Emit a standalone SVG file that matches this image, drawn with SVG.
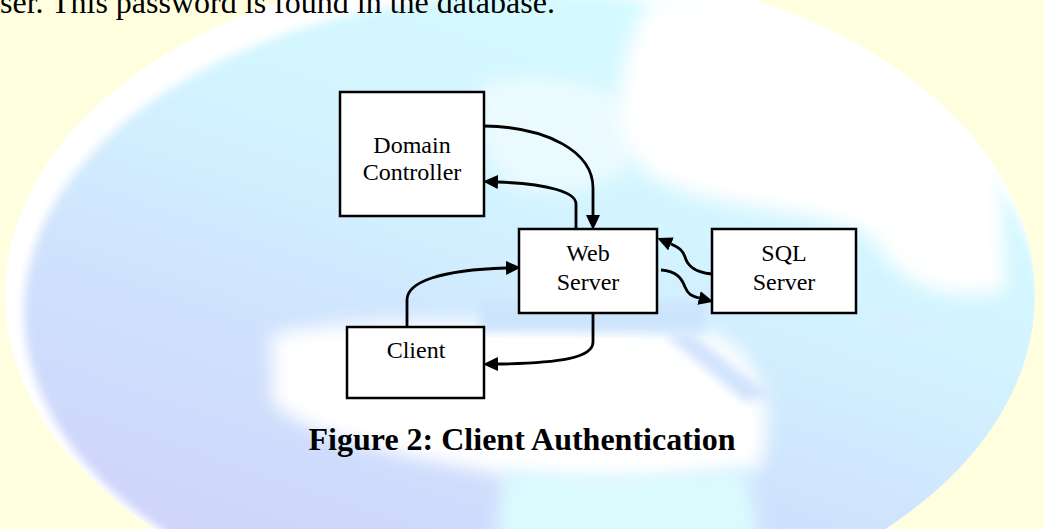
<svg xmlns="http://www.w3.org/2000/svg" width="1044" height="529" viewBox="0 0 1044 529">
  <defs>
    <style>
      .box { fill: #ffffff; stroke: #000000; stroke-width: 2.5; }
      .lbl { font-family: "Liberation Serif", "Times New Roman", serif; font-size: 24px; fill: #000000; text-anchor: middle; }
      .body { font-family: "Liberation Serif", "Times New Roman", serif; font-size: 32px; fill: #000000; }
      .cap { font-family: "Liberation Serif", "Times New Roman", serif; font-size: 32px; font-weight: bold; fill: #000000; text-anchor: middle; }
      .wire { fill: none; stroke: #000000; stroke-width: 2.8; }
    </style>
    <marker id="head" markerUnits="userSpaceOnUse" markerWidth="16" markerHeight="14" refX="0" refY="7" orient="auto">
      <path d="M0,0 L15,7 L0,14 Z" fill="#000000"/>
    </marker>
    <linearGradient id="sea" x1="0.75" y1="0" x2="0.2" y2="1">
      <stop offset="0" stop-color="#d4fcff"/>
      <stop offset="0.35" stop-color="#d3f4ff"/>
      <stop offset="0.6" stop-color="#cfe3fd"/>
      <stop offset="1" stop-color="#cfcffb"/>
    </linearGradient>
    <clipPath id="globeClip">
      <ellipse cx="520" cy="295" rx="515" ry="332"/>
    </clipPath>
    <filter id="soft" x="-20%" y="-20%" width="140%" height="140%">
      <feGaussianBlur stdDeviation="9"/>
    </filter>
    <filter id="softer" x="-20%" y="-20%" width="140%" height="140%">
      <feGaussianBlur stdDeviation="5"/>
    </filter>
  </defs>

  <!-- page background with the globe artwork -->
  <g id="background">
    <rect x="0" y="0" width="1044" height="529" fill="#ffffe0"/>
    <ellipse cx="520" cy="295" rx="515" ry="332" fill="#ffffff"/>
    <g clip-path="url(#globeClip)">
      <ellipse cx="532" cy="312" rx="508" ry="318" fill="url(#sea)" filter="url(#softer)"/>
      <!-- land masses -->
      <path d="M650,0 C740,-5 900,30 1000,130 L1005,290 C960,300 905,295 875,240 C830,205 720,215 650,175 C605,140 615,60 650,0 Z" fill="#ffffff" filter="url(#soft)"/>
      <path d="M272,335 C350,312 600,322 705,332 C765,345 775,420 760,468 C700,482 560,492 480,470 C380,452 300,432 272,402 Z" fill="#ffffff" filter="url(#soft)"/>
      <path d="M505,470 C560,480 690,478 745,468 L760,540 L495,540 Z" fill="#dcfbff" filter="url(#soft)"/>
      <path d="M480,85 C540,70 620,80 640,120 C650,170 600,200 520,190 C480,170 470,110 480,85 Z" fill="#ffffff" opacity="0.55" filter="url(#soft)"/>
      <!-- grid-line streaks -->
      <path d="M480,302 L705,302 L705,332 L480,332 Z" fill="#cde4fd" filter="url(#softer)"/>
      <path d="M665,335 L690,332 L770,395 L745,402 Z" fill="#d2e4fd" filter="url(#softer)"/>
      <path d="M860,318 L900,310 L960,330 L900,335 Z" fill="#d6f0ff" filter="url(#softer)"/>
    </g>
  </g>

  <!-- running text above the figure -->
  <text class="body" x="0" y="13">ser. This password is found in the database.</text>

  <!-- connectors -->
  <g id="connectors">
    <path class="wire" d="M484,126 C548,127 593,152 593,188 L593,215" marker-end="url(#head)"/>
    <path class="wire" d="M576,229 L576,204 C576,192 548,184 498,182" marker-end="url(#head)"/>
    <path class="wire" d="M407,327 L407,300 C407,282 440,270 506,268" marker-end="url(#head)"/>
    <path class="wire" d="M593,313 L593,342 C593,358 560,363 498,364" marker-end="url(#head)"/>
    <path class="wire" d="M712,274 C692,272 687,264 685,257 C683,251 680,248 671,244" marker-end="url(#head)"/>
    <path class="wire" d="M661,270 C677,271 682,279 685,287 C688,294 691,296 699,298" marker-end="url(#head)"/>
  </g>

  <!-- nodes -->
  <g id="domain-controller">
    <rect class="box" x="340" y="92" width="144" height="124"/>
    <text class="lbl" x="412" y="153">Domain</text>
    <text class="lbl" x="412" y="180">Controller</text>
  </g>
  <g id="web-server">
    <rect class="box" x="519" y="229" width="138" height="84"/>
    <text class="lbl" x="588" y="261">Web</text>
    <text class="lbl" x="588" y="290">Server</text>
  </g>
  <g id="sql-server">
    <rect class="box" x="712" y="229" width="144" height="84"/>
    <text class="lbl" x="784" y="261">SQL</text>
    <text class="lbl" x="784" y="290">Server</text>
  </g>
  <g id="client">
    <rect class="box" x="347" y="327" width="137" height="71"/>
    <text class="lbl" x="416" y="358">Client</text>
  </g>

  <!-- figure caption -->
  <text class="cap" x="522" y="450">Figure 2: Client Authentication</text>
</svg>
